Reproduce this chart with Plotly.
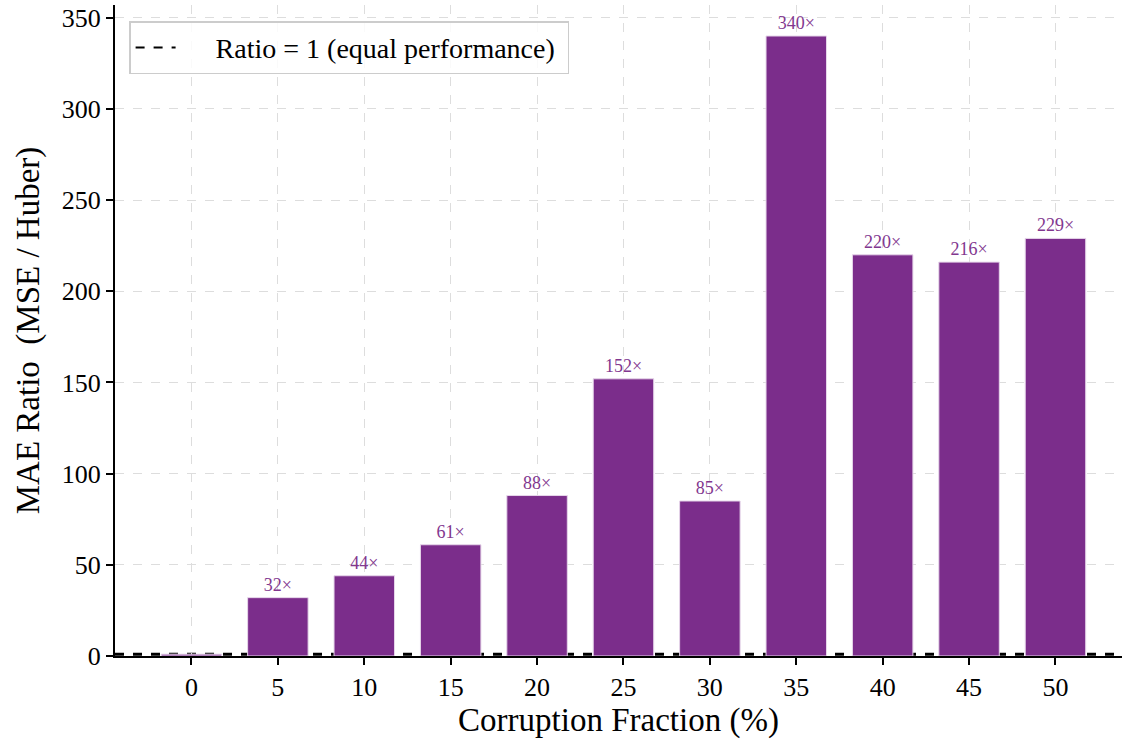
import plotly.graph_objects as go

# Corruption fraction (%) and MAE ratio of MSE-trained vs Huber-trained models
fractions = ["0", "5", "10", "15", "20", "25", "30", "35", "40", "45", "50"]
mae_ratio = [1.0, 32, 44, 61, 88, 152, 85, 340, 220, 216, 229]
ratio_labels = ["", "32×", "44×", "61×", "88×", "152×", "85×", "340×", "220×", "216×", "229×"]

bar_color = "#7B2D8B"
serif = "Liberation Serif, Times New Roman, serif"
x_idx = list(range(len(fractions)))

fig = go.Figure()

# Bars with value labels
fig.add_trace(go.Bar(
    x=x_idx, y=mae_ratio, width=0.7,
    marker=dict(color=bar_color, line=dict(color="#E6D6EA", width=1)),
    text=ratio_labels, textposition="outside", cliponaxis=False,
    textfont=dict(family=serif, size=18, color="#82378F"),
    showlegend=False, hoverinfo="skip",
))

# Legend entry for the reference line
fig.add_trace(go.Scatter(
    x=[None], y=[None], mode="lines",
    line=dict(color="black", dash="dash", width=2),
    name="\u00a0\u00a0\u00a0\u00a0\u00a0Ratio = 1 (equal performance)\u00a0",
))

# Reference line at ratio = 1, under the bars
fig.add_shape(type="line", xref="paper", x0=0, x1=1, yref="y", y0=1, y1=1,
              line=dict(color="black", dash="dash", width=3), layer="below")

fig.update_layout(
    width=1122, height=740,
    margin=dict(l=115, r=0, t=5, b=84),
    plot_bgcolor="white", paper_bgcolor="white",
    font=dict(family=serif, size=26, color="black"),
    bargap=0.3,
    uniformtext=dict(minsize=8, mode=False),
    legend=dict(
        x=0.014, y=0.975, xanchor="left", yanchor="top",
        bgcolor="rgba(255,255,255,0.85)", bordercolor="#CCCCCC", borderwidth=1.5,
        font=dict(family=serif, size=28),
        itemwidth=40,
    ),
    xaxis=dict(
        range=[-0.885, 10.77],
        tickmode="array", tickvals=x_idx, ticktext=fractions,
        ticks="outside", ticklen=7, tickwidth=1.5, tickcolor="black",
        showline=True, linecolor="black", linewidth=2,
        showgrid=True, gridcolor="#DDDDDD", griddash="dash", gridwidth=1.3,
        zeroline=False,
        title=dict(text="Corruption Fraction (%)", font=dict(size=33), standoff=6),
        tickfont=dict(size=26),
    ),
    yaxis=dict(
        range=[0, 357],
        tickmode="array", tickvals=[0, 50, 100, 150, 200, 250, 300, 350],
        ticks="outside", ticklen=7, tickwidth=1.5, tickcolor="black",
        showline=True, linecolor="black", linewidth=2,
        showgrid=True, gridcolor="#DDDDDD", griddash="dash", gridwidth=1.3,
        zeroline=False,
        title=dict(text="MAE Ratio  (MSE / Huber)", font=dict(size=33), standoff=12),
        tickfont=dict(size=26),
    ),
)

fig.write_html("out.html")
